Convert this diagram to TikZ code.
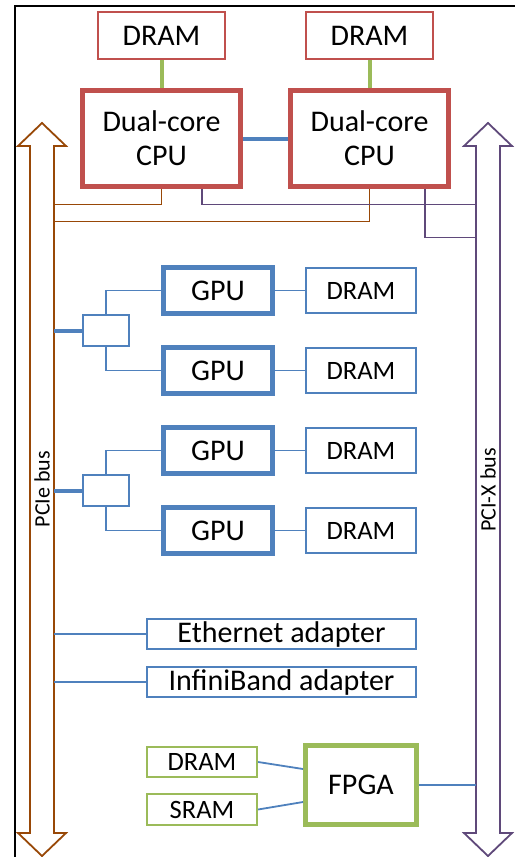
\documentclass[tikz,border=0pt]{standalone}
\usepackage{fontspec}
\setmainfont{Carlito}
\usetikzlibrary{positioning}

\definecolor{cpured}{HTML}{C0504D}
\definecolor{memgreen}{HTML}{9BBB59}
\definecolor{gpublue}{HTML}{4F81BD}
\definecolor{pciebrown}{HTML}{984807}
\definecolor{pcixpurple}{HTML}{5F497A}

\tikzset{
  box/.style={draw, rectangle, inner sep=0pt, align=center, text=black},
  big/.style={font=\fontsize{30}{34}\selectfont},
  small/.style={font=\fontsize{26.5}{30}\selectfont},
  cpu/.style={box, big, draw=cpured, line width=5pt, minimum width=158pt, minimum height=96pt},
  dramtop/.style={box, big, draw=cpured, line width=1.8pt, minimum width=126.5pt, minimum height=47.5pt},
  gpu/.style={box, big, draw=gpublue, line width=5pt, minimum width=109pt, minimum height=46pt},
  gpumem/.style={box, small, draw=gpublue, line width=1.8pt, minimum width=110.5pt, minimum height=45.5pt},
  switch/.style={box, draw=gpublue, line width=1.8pt, minimum width=46.5pt, minimum height=31.5pt},
  adapter/.style={box, big, draw=gpublue, line width=1.8pt, minimum width=269.5pt, minimum height=30.5pt},
  fpga/.style={box, big, draw=memgreen, line width=5pt, minimum width=111pt, minimum height=79pt},
  fpgamem/.style={box, small, draw=memgreen, line width=1.8pt, minimum width=110.5pt, minimum height=30.5pt},
  buslabel/.style={inner sep=0pt, rotate=90, font=\fontsize{22}{24}\selectfont},
  memlink/.style={draw=memgreen, line width=4pt},
  gpulink/.style={draw=gpublue, line width=1.8pt},
  pcieline/.style={draw=pciebrown, line width=1.8pt},
  pcixline/.style={draw=pcixpurple, line width=1.8pt},
}

\begin{document}
\begin{tikzpicture}[x=1pt, y=-1pt, on grid, node distance=80pt]
  \useasboundingbox (0,0) rectangle (515,857);

  % frame
  \draw[line width=2pt] (15,857) -- (15,6) -- (515,6);

  % bus arrows
  \draw[pcieline, fill=white] (30,146) -- (18,146) -- (42,123) -- (66,146) -- (54,146)
    -- (54,833) -- (66,833) -- (42,856) -- (18,833) -- (30,833) -- cycle;
  \draw[pcixline, fill=white] (476,146) -- (464,146) -- (488,123) -- (512,146) -- (500,146)
    -- (500,833) -- (512,833) -- (488,856) -- (464,833) -- (476,833) -- cycle;
  \coordinate (pcie) at (54,146);
  \coordinate (pcix) at (476,146);
  \node[buslabel] (pcielabel) at (42,489) {PCIe bus};
  \node[buslabel] (pcixlabel) at (488,490) {PCI-X bus};

  % CPUs and their memory
  \node[cpu] (cpuL) at (161.5,138.5) {Dual-core\\CPU};
  \node[cpu] (cpuR) [right=208pt of cpuL] {Dual-core\\CPU};
  \node[dramtop] (dramL) [above=103pt of cpuL] {DRAM};
  \node[dramtop] (dramR) [above=103pt of cpuR] {DRAM};

  % GPUs
  \node[gpu] (gpu1) at (218,290.5) {GPU};
  \node[gpu] (gpu2) [below=of gpu1] {GPU};
  \node[gpu] (gpu3) [below=of gpu2] {GPU};
  \node[gpu] (gpu4) [below=of gpu3] {GPU};
  \node[gpumem] (mem1) [right=143pt of gpu1] {DRAM};
  \node[gpumem] (mem2) [right=143pt of gpu2] {DRAM};
  \node[gpumem] (mem3) [right=143pt of gpu3] {DRAM};
  \node[gpumem] (mem4) [right=143pt of gpu4] {DRAM};
  \node[switch] (sw1) at (106,330.5) {};
  \node[switch] (sw2) at (106,490.5) {};

  % adapters
  \node[adapter] (eth) at (281.5,634) {Ethernet adapter};
  \node[adapter] (ib) [below=48pt of eth] {InfiniBand adapter};

  % FPGA
  \node[fpga] (fpga) at (361,785) {FPGA};
  \node[fpgamem] (fdram) at (202,762) {DRAM};
  \node[fpgamem] (fsram) [below=47.5pt of fdram] {SRAM};

  % From CPUs
  \draw[memlink] (dramL) -- (cpuL);
  \draw[memlink] (dramR) -- (cpuR);
  \draw[gpulink, line width=4pt] (cpuL) -- (cpuR);
  \draw[pcieline] (cpuL.south) -- ++(0,15.5) coordinate (c1) -- (c1 -| pcie);
  \draw[pcieline] (cpuR.south) -- ++(0,32.5) coordinate (c2) -- (c2 -| pcie);
  \draw[pcixline] ([xshift=40.5pt]cpuL.south) -- ++(0,15.5) coordinate (c3) -- (c3 -| pcix);
  \draw[pcixline] ([xshift=55.5pt]cpuR.south) -- ++(0,48.5) coordinate (c4) -- (c4 -| pcix);

  % From switches
  \draw[gpulink, line width=4pt] (sw1.west) -- (sw1.west -| pcie);
  \draw[gpulink, line width=4pt] (sw2.west) -- (sw2.west -| pcie);
  \draw[gpulink] (sw1.north) |- (gpu1.west);
  \draw[gpulink] (sw1.south) |- (gpu2.west);
  \draw[gpulink] (sw2.north) |- (gpu3.west);
  \draw[gpulink] (sw2.south) |- (gpu4.west);
  \foreach \i in {1,...,4}
    \draw[gpulink] (gpu\i) -- (mem\i);

  % From adapters
  \draw[gpulink] (eth.west) -- (eth.west -| pcie);
  \draw[gpulink] (ib.west) -- (ib.west -| pcie);

  % From FPGA
  \draw[gpulink] (fdram.east) -- ([yshift=16pt]fpga.west);
  \draw[gpulink] (fsram.east) -- ([yshift=-17pt]fpga.west);
  \draw[gpulink] (fpga.east) -- (fpga.east -| pcix);
\end{tikzpicture}
\end{document}
